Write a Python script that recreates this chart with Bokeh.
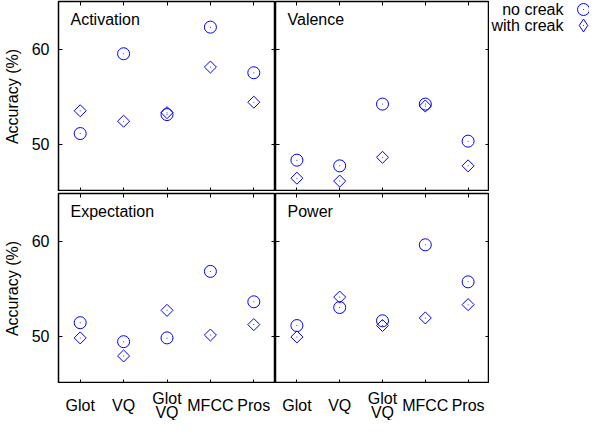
import math
from bokeh.plotting import figure
from bokeh.models import Range1d, FixedTicker, LinearAxis, Label, Legend, LegendItem
from bokeh.layouts import column, row
from bokeh.embed import file_html
from bokeh.resources import INLINE

# ---------------- data ----------------
categories = ["Glot", "VQ", "Glot\nVQ", "MFCC", "Pros"]
positions = [1, 2, 3, 4, 5]
y_ticks = [50, 60]
panel_titles = ["Activation", "Valence", "Expectation", "Power"]
series_names = ["no creak", "with creak"]

activation_no = [51.1, 59.5, 53.1, 62.3, 57.5]
activation_with = [53.5, 52.4, 53.3, 58.1, 54.4]
valence_no = [48.3, 47.7, 54.2, 54.2, 50.3]
valence_with = [46.4, 46.1, 48.6, 54.0, 47.7]
expectation_no = [51.4, 49.4, 49.8, 56.8, 53.6]
expectation_with = [49.8, 47.9, 52.7, 50.1, 51.2]
power_no = [51.1, 53.0, 51.6, 59.6, 55.7]
power_with = [49.9, 54.1, 51.1, 51.9, 53.3]

# ---------------- style ----------------
FONT = "Liberation Sans"
BLUE = "#0000ff"
FRAME_H = 190
BORDER_L = 58
LEFT_W, RIGHT_W, LEG_W = BORDER_L + 217, 214, 100
STRIP_H = 37


def base_fig(width, height, **kw):
    p = figure(width=width, height=height,
               output_backend="svg", toolbar_location=None,
               x_axis_location=None, y_axis_location=None,
               background_fill_color="white", border_fill_color="white",
               **kw)
    p.grid.visible = False
    return p


def tick_axis(ticks):
    return LinearAxis(ticker=FixedTicker(ticks=ticks),
                      major_label_text_font_size="0px",
                      major_label_text_color=None,
                      major_label_standoff=0,
                      major_tick_in=4, major_tick_out=0,
                      major_tick_line_color="black",
                      axis_line_color=None,
                      minor_tick_line_color=None)


def add_markers(p, xs, no_vals, with_vals):
    rc = p.scatter(xs, no_vals, marker="circle", size=12,
                   line_color=BLUE, fill_color=None, line_width=1)
    rd1 = p.scatter(xs, no_vals, marker="dot", size=4, line_color=BLUE)
    rs = p.scatter(xs, with_vals, marker="square", size=8.5,
                   angle=math.pi / 4, line_color=BLUE, fill_color=None,
                   line_width=1)
    rd2 = p.scatter(xs, with_vals, marker="dot", size=4, line_color=BLUE)
    return rc, rd1, rs, rd2


def make_panel(title, no_vals, with_vals, left, bottom):
    p = base_fig(LEFT_W if left else RIGHT_W,
                 (2 + FRAME_H) if bottom else (1 + FRAME_H),
                 x_range=Range1d(0.5, 5.5), y_range=Range1d(45, 65),
                 min_border_left=BORDER_L if left else 0, min_border_right=0,
                 min_border_top=2 if bottom else 1, min_border_bottom=0,
                 outline_line_color="black", outline_line_width=1.5)

    yl = tick_axis(y_ticks)
    if left:
        yl.axis_label = "Accuracy (%)"
        yl.axis_label_text_font = FONT
        yl.axis_label_text_font_size = "16px"
        yl.axis_label_text_font_style = "normal"
        yl.axis_label_text_color = "black"
        yl.axis_label_standoff = 8
        yl.major_label_text_font = FONT
        yl.major_label_text_font_size = "16px"
        yl.major_label_text_color = "black"
        yl.major_label_standoff = 9
    p.add_layout(yl, "left")
    p.add_layout(tick_axis(y_ticks), "right")
    p.add_layout(tick_axis(positions), "above")
    p.add_layout(tick_axis(positions), "below")

    add_markers(p, positions, no_vals, with_vals)

    p.add_layout(Label(x=12, y=FRAME_H - 18, x_units="screen", y_units="screen",
                       text=title, text_font=FONT, text_font_size="16px",
                       text_baseline="middle", text_align="left",
                       text_color="black"))
    return p


def make_strip(panel, left):
    s = base_fig(LEFT_W if left else RIGHT_W, STRIP_H,
                 x_range=panel.x_range, y_range=Range1d(0, 1),
                 min_border_left=BORDER_L if left else 0, min_border_right=0,
                 min_border_top=0, min_border_bottom=0,
                 outline_line_color=None)
    for xv, cat in zip(positions, categories):
        s.add_layout(Label(x=xv, y=STRIP_H - 22, x_units="data", y_units="screen",
                           text=cat, text_font=FONT, text_font_size="16px",
                           text_baseline="middle", text_align="center",
                           text_line_height=0.78, text_color="black"))
    return s


def make_legend_fig():
    # legend-only renderers: real data, but the ranges keep them out of view
    g = base_fig(LEG_W, 1 + FRAME_H, x_range=Range1d(-2, -1), y_range=Range1d(45, 65),
                 min_border_left=0, min_border_right=0,
                 min_border_top=0, min_border_bottom=0,
                 outline_line_color=None)
    rc, rd1, _, rd2 = add_markers(g, positions, activation_no, activation_with)
    rdia = g.scatter(positions, activation_with, marker="diamond", size=12,
                     line_color=BLUE, fill_color=None, line_width=1)
    common = dict(label_standoff=0, label_width=0, label_height=0,
                  padding=0, margin=0, spacing=0, border_line_color=None,
                  background_fill_alpha=0, label_text_font_size="1px")
    cx = 94
    rows_y = [1 + FRAME_H - 9, 1 + FRAME_H - 25]
    specs = [(rc, 30, rows_y[0]), (rd1, 10, rows_y[0]),
             (rdia, 32, rows_y[1]), (rd2, 10, rows_y[1])]
    for rend, gsz, cy in specs:
        g.add_layout(Legend(items=[LegendItem(label=" ", renderers=[rend])],
                            location=(cx - gsz / 2, cy - gsz / 2),
                            glyph_width=gsz, glyph_height=gsz, **common))
    for name, cy in zip(series_names, rows_y):
        g.add_layout(Label(x=74, y=cy, x_units="screen", y_units="screen",
                           text=name, text_font=FONT, text_font_size="16px",
                           text_baseline="middle", text_align="right",
                           text_color="black"))
    return g


p1 = make_panel(panel_titles[0], activation_no, activation_with, True, False)
p2 = make_panel(panel_titles[1], valence_no, valence_with, False, False)
p3 = make_panel(panel_titles[2], expectation_no, expectation_with, True, True)
p4 = make_panel(panel_titles[3], power_no, power_with, False, True)
leg = make_legend_fig()
s3 = make_strip(p3, True)
s4 = make_strip(p4, False)

layout = column(row(p1, p2, leg), row(p3, p4), row(s3, s4))
open("out.html", "w").write(file_html(layout, INLINE))
